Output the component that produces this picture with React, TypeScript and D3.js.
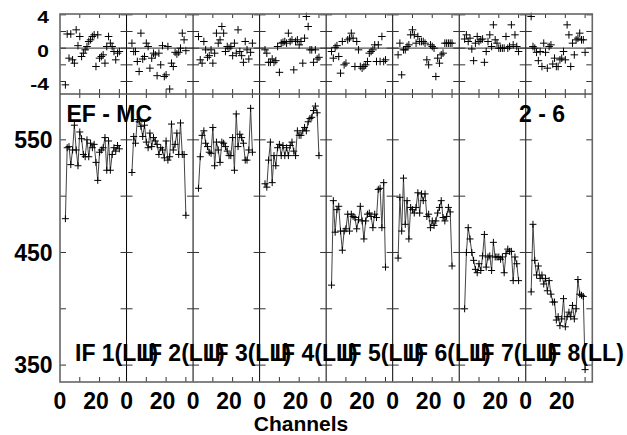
import React from 'react';
import * as d3 from 'd3';

const W = 627;
const H = 435;

const IF_LABELS = ['IF 1(LL)', 'IF 2(LL)', 'IF 3(LL)', 'IF 4(LL)', 'IF 5(LL)', 'IF 6(LL)', 'IF 7(LL)', 'IF 8(LL)'];
const CHANNELS = [3, 4, 5, 6, 7, 8, 9, 10, 11, 12, 13, 14, 15, 16, 17, 18, 19, 20, 21, 22, 23, 24, 25, 26, 27, 28, 29, 30, 31, 32, 33];

const SPEC_IF1 = [480, 543, 544, 528, 541, 563, 541, 527, 557, 551, 537, 535, 550, 535, 547, 543, 546, 530, 514, 539, 541, 543, 552, 523, 549, 523, 537, 543, 540, 545, 542];
const SPEC_IF2 = [521, 553, 547, 568, 566, 562, 553, 563, 548, 543, 556, 544, 552, 549, 546, 537, 543, 541, 534, 549, 532, 535, 564, 541, 546, 556, 537, 565, 537, 537, 483];
const SPEC_IF3 = [507, 535, 554, 558, 547, 544, 539, 538, 561, 527, 548, 541, 530, 548, 547, 544, 540, 536, 536, 552, 523, 573, 544, 555, 552, 547, 532, 532, 541, 578, 539];
const SPEC_IF4 = [511, 508, 532, 548, 512, 536, 527, 543, 546, 536, 545, 536, 543, 536, 545, 548, 540, 536, 558, 554, 554, 558, 561, 558, 566, 569, 570, 576, 580, 574, 536];
const SPEC_IF5 = [421, 496, 468, 488, 491, 469, 452, 469, 471, 484, 469, 484, 482, 481, 471, 479, 491, 478, 462, 478, 484, 485, 482, 472, 484, 481, 506, 507, 472, 512, 437];
const SPEC_IF6 = [445, 499, 469, 516, 475, 496, 462, 490, 488, 485, 490, 503, 485, 502, 496, 502, 482, 484, 472, 478, 474, 478, 485, 490, 496, 481, 478, 482, 490, 486, 438];
const SPEC_IF7 = [400, 450, 472, 462, 450, 443, 435, 432, 440, 434, 447, 466, 437, 446, 447, 434, 459, 446, 446, 446, 444, 446, 432, 449, 453, 451, 451, 425, 446, 440, 425];
const SPEC_IF8 = [415, 475, 443, 430, 438, 427, 430, 422, 427, 416, 425, 413, 406, 406, 390, 393, 385, 391, 409, 384, 393, 397, 393, 403, 391, 400, 426, 413, 412, 411, 346];

const RES_IF1 = [-4.4, 1.7, -1.2, 1.7, -1.4, -1.8, 2.2, 0.3, 1.4, -1.0, -0.6, -0.2, 0.2, 0.8, 1.0, 1.4, 1.6, -2.2, 1.6, -1.2, -1.0, -0.8, -1.8, 0.2, 1.4, 0.6, 0.2, -0.4, -1.4, -0.6, -0.4];
const RES_IF2 = [0.6, -0.4, -0.4, -1.6, -2.8, 1.8, -1.3, -1.0, 0.6, 0.2, -2.4, -1.2, -0.6, -0.8, -3.3, -0.6, -2.0, 0.3, -3.4, -3.2, 0.2, -4.9, -1.8, -2.2, -0.5, -0.7, -0.5, 0.0, 1.8, 1.0, -0.3];
const RES_IF3 = [1.4, -1.4, -1.8, 0.8, -0.2, -1.1, -0.9, -0.2, -1.8, -0.6, 1.8, 0.6, 1.0, 2.6, 1.8, -0.4, 0.2, 0.0, 0.2, -0.9, 0.6, -0.6, 2.2, -0.4, -0.9, -1.7, 0.8, -0.2, -1.3, -0.5, 0.6];
const RES_IF4 = [-0.2, -0.6, -1.7, -1.7, -1.3, -1.7, -1.5, 0.2, -2.9, 0.6, 0.7, 0.8, 0.6, 1.8, 0.8, 1.0, -2.6, 0.8, 1.0, 0.4, 0.8, -1.8, 1.2, 3.8, 2.6, -0.2, -0.2, -1.7, -0.2, -1.3, -1.1];
const RES_IF5 = [-0.4, -1.2, 0.1, 0.3, -1.0, -3.0, 0.8, -2.0, -1.8, 1.0, 1.2, 1.8, 1.2, -2.2, 0.8, -0.2, -2.2, -2.4, -2.2, -2.0, -1.6, -0.6, -0.4, -0.2, 0.4, -1.6, 0.4, -1.6, 1.4, -1.6, -1.4];
const RES_IF6 = [-0.8, 0.6, -3.2, -0.2, -0.2, 0.2, 0.4, 1.6, 2.2, 1.6, 0.6, 1.4, 0.8, 0.8, 0.8, 0.6, -1.4, -2.0, 0.4, 0.2, 0.0, -3.4, -1.2, -1.8, -0.8, -0.6, 0.6, 0.6, 0.6, 0.6, 0.6];
const RES_IF7 = [1.1, 1.6, 0.8, 1.2, -0.1, -1.5, 0.6, 1.4, 0.8, 1.0, 1.1, -1.7, -0.4, 0.8, 1.6, 0.2, 2.8, 1.0, 0.6, 0.0, 0.0, 0.0, 0.0, 1.4, 0.0, 0.2, 2.8, 0.4, 1.6, 0.2, -0.4];
const RES_IF8 = [3.8, 0.2, 0.0, -0.5, -1.5, -0.4, -2.2, 0.6, -0.5, -2.4, 0.2, 0.4, -1.9, -1.2, -2.2, -2.2, -1.4, -1.2, -0.4, -1.4, 2.8, 1.6, -2.2, 0.6, -0.8, 1.0, 1.2, 1.8, 1.0, 1.0, -0.5];

const SPECTRA = [SPEC_IF1, SPEC_IF2, SPEC_IF3, SPEC_IF4, SPEC_IF5, SPEC_IF6, SPEC_IF7, SPEC_IF8];
const RESIDUALS = [RES_IF1, RES_IF2, RES_IF3, RES_IF4, RES_IF5, RES_IF6, RES_IF7, RES_IF8];

const MAIN_TICKS = [350, 400, 450, 500, 550];
const MAIN_TICK_LABELS = [350, 450, 550];
const RES_TICKS = [-4, -2, 0, 2, 4];
const RES_TICK_LABELS = [-4, 0, 4];
const X_TICKS = [11, 22, 33];
const X_TICK_LABELS = [0, 20];

const TITLE_LEFT = 'EF - MC';
const TITLE_RIGHT = '2 - 6';
const X_TITLE = 'Channels';

const FONT = '"Liberation Sans", Arial, Helvetica, sans-serif';

const L = 60;
const R = 592.3;
const TOP = 14;
const MID = 94;
const BOT = 382;

function Cross({ x, y, s = 3.5 }: { x: number; y: number; s?: number }) {
  return (
    <g>
      <line x1={x - s} x2={x + s} y1={y} y2={y} />
      <line x1={x} x2={x} y1={y - s} y2={y + s} />
    </g>
  );
}

export default function App() {
  const band = d3.scaleBand<string>().domain(IF_LABELS).range([L, R]).paddingInner(0).paddingOuter(0);
  const bw = band.bandwidth();
  const xCh = d3.scaleLinear().domain([0, 37]).range([0, bw]);
  const yMain = d3.scaleLinear().domain([335, 590.7]).range([BOT, MID]);
  const yRes = d3.scaleLinear().domain([-5.5, 4.1]).range([MID, TOP]);

  const lineGen = d3
    .line<number>()
    .x((_, i) => xCh(CHANNELS[i]))
    .y((d) => yMain(d));

  const boundaries = d3.range(0, IF_LABELS.length + 1).map((i) => L + i * bw);

  return (
    <svg
      width={W}
      height={H}
      style={{ position: 'fixed', left: 0, top: 0, background: '#fff' }}
      fontFamily={FONT}
      fontWeight="bold"
    >
      <rect x={0} y={0} width={W} height={H} fill="#fff" />

      {/* zero line of residuals */}
      <line x1={L} x2={R} y1={yRes(0)} y2={yRes(0)} stroke="#555" strokeWidth={1.2} />

      {/* panels */}
      {IF_LABELS.map((lab, p) => {
        const x0 = band(lab) as number;
        return (
          <g key={lab} transform={`translate(${x0},0)`}>
            <path d={lineGen(SPECTRA[p]) || ''} fill="none" stroke="#444" strokeWidth={1} />
            <g stroke="#000" strokeWidth={1}>
              {SPECTRA[p].map((v, i) => (
                <Cross key={'s' + i} x={xCh(CHANNELS[i])} y={yMain(v)} />
              ))}
              {RESIDUALS[p].map((v, i) => (
                <Cross key={'r' + i} x={xCh(CHANNELS[i])} y={yRes(v)} s={3.8} />
              ))}
            </g>
            {/* x ticks */}
            <g stroke="#333" strokeWidth={1}>
              {X_TICKS.map((t) => (
                <g key={t}>
                  <line x1={xCh(t)} x2={xCh(t)} y1={TOP} y2={TOP + 4} />
                  <line x1={xCh(t)} x2={xCh(t)} y1={MID - 5} y2={MID + 4} />
                  <line x1={xCh(t)} x2={xCh(t)} y1={BOT - 5} y2={BOT} />
                </g>
              ))}
            </g>
            {X_TICK_LABELS.map((t) => (
              <text key={t} x={xCh(t)} y={409} fontSize={23} textAnchor="middle" fill="#000">
                {t}
              </text>
            ))}
          </g>
        );
      })}

      {/* panel dividers */}
      {boundaries.slice(1, -1).map((bx, i) => (
        <line key={'d' + i} x1={bx} x2={bx} y1={TOP} y2={BOT} stroke="#000" strokeWidth={1} />
      ))}

      {/* y ticks on boundaries */}
      <g stroke="#333" strokeWidth={1}>
        {boundaries.map((bx, i) => {
          const a = i === 0 ? bx : bx - 6;
          const b = i === boundaries.length - 1 ? bx : bx + 6;
          return (
            <g key={'yt' + i}>
              {MAIN_TICKS.map((t) => (
                <line key={'m' + t} x1={a} x2={b} y1={yMain(t)} y2={yMain(t)} />
              ))}
              {RES_TICKS.map((t) => (
                <line key={'r' + t} x1={a} x2={b} y1={yRes(t)} y2={yRes(t)} />
              ))}
            </g>
          );
        })}
      </g>

      {/* frames */}
      <rect x={L} y={TOP} width={R - L} height={BOT - TOP} fill="none" stroke="#666" strokeWidth={1.6} />
      <line x1={L} x2={R} y1={MID} y2={MID} stroke="#555" strokeWidth={1.4} />

      {/* y tick labels */}
      {MAIN_TICK_LABELS.map((t) => (
        <text key={'ml' + t} x={52.5} y={yMain(t) + 8.3} fontSize={23} textAnchor="end" fill="#000">
          {t}
        </text>
      ))}
      {RES_TICK_LABELS.map((t) => (
        <text
          key={'rl' + t}
          x={0}
          y={0}
          fontSize={21}
          textAnchor="end"
          fill="#000"
          transform={`translate(49,${yRes(t) + 8.5}) scale(1,0.76)`}
        >
          {t}
        </text>
      ))}

      {/* IF labels */}
      {IF_LABELS.map((lab) => (
        <text key={'l' + lab} x={(band(lab) as number) + 15} y={361} fontSize={23} fill="#000">
          {lab}
        </text>
      ))}

      <text x={66.5} y={121.5} fontSize={23} fill="#000">
        {TITLE_LEFT}
      </text>
      <text x={565} y={121.5} fontSize={23} fill="#000" textAnchor="end">
        {TITLE_RIGHT}
      </text>
      <text x={301} y={431} fontSize={21} fill="#000" textAnchor="middle">
        {X_TITLE}
      </text>
    </svg>
  );
}
